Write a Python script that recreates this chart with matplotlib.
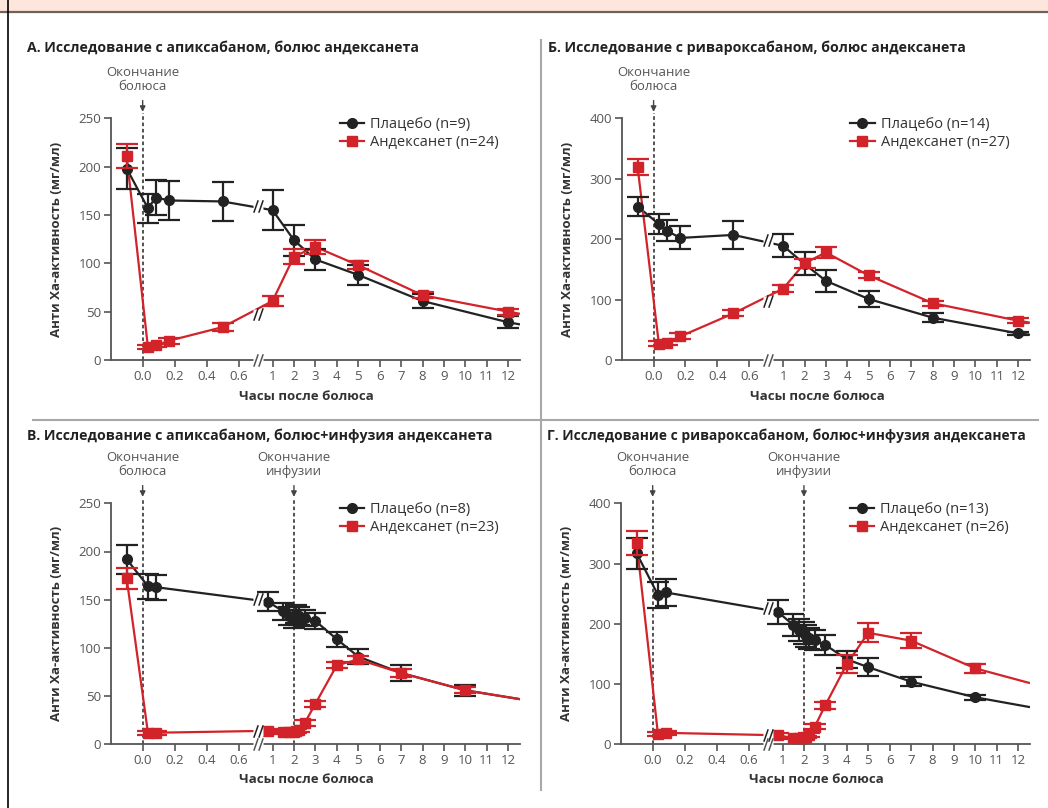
import numpy as np
import matplotlib.pyplot as plt
from matplotlib.path import Path
from matplotlib.lines import Line2D
from matplotlib.patches import Rectangle

plt.rcParams['font.family'] = ['Open Sans', 'DejaVu Sans']

W, H = 1048, 808

# --- data (hours after bolus, anti-Xa activity) ---
a_t = [-0.1, 0.033, 0.083, 0.167, 0.5, 1, 2, 3, 5, 8, 12]
a_plac = [198, 157, 168, 165, 164, 155, 124, 104, 88, 61, 39]
a_plac_err = [21, 15, 18, 20, 20, 21, 16, 11, 10, 7, 6]
a_andx = [211, 13, 15, 20, 34, 61, 107, 117, 98, 67, 50]
a_andx_err = [12, 2, 2, 3, 4, 5, 8, 7, 4, 3, 3]
a_tail = [37, 48]

b_t = [-0.1, 0.033, 0.083, 0.167, 0.5, 1, 2, 3, 5, 8, 12]
b_plac = [254, 225, 214, 202, 207, 189, 159, 131, 101, 70, 44]
b_plac_err = [16, 17, 17, 19, 23, 19, 19, 18, 13, 7, 3]
b_andx = [319, 27, 28, 39, 77, 118, 160, 178, 140, 94, 65]
b_andx_err = [13, 4, 4, 5, 5, 6, 7, 9, 5, 4, 4]
b_tail = [42, 62]

c_t = [-0.1, 0.033, 0.083, 0.92, 1.5, 1.75, 2, 2.1, 2.25, 2.5, 3, 4, 5, 7, 10]
c_plac = [192, 164, 163, 148, 138, 133, 130, 135, 133, 131, 128, 109, 91, 74, 56]
c_plac_err = [15, 13, 13, 10, 9, 9, 9, 9, 9, 8, 8, 8, 8, 8, 6]
c_andx = [172, 12, 12, 14, 13, 13, 13, 14, 15, 22, 42, 82, 88, 74, 56]
c_andx_err = [11, 2, 2, 2, 2, 2, 2, 2, 2, 3, 3, 3, 4, 4, 3]
c_tail = [47, 47]

d_t = [-0.1, 0.033, 0.083, 0.92, 1.5, 1.75, 2, 2.1, 2.25, 2.5, 3, 4, 5, 7, 10]
d_plac = [317, 248, 252, 220, 198, 190, 185, 180, 176, 173, 165, 141, 128, 104, 78]
d_plac_err = [26, 22, 23, 20, 18, 18, 18, 18, 17, 17, 17, 14, 15, 8, 4]
d_andx = [334, 17, 19, 15, 10, 10, 10, 12, 15, 29, 65, 133, 185, 172, 126]
d_andx_err = [20, 3, 3, 3, 2, 2, 2, 2, 3, 4, 6, 15, 16, 12, 8]
d_tail = [62, 102]

titles = ['А. Исследование с апиксабаном, болюс андексанета',
          'Б. Исследование с ривароксабаном, болюс андексанета',
          'В. Исследование с апиксабаном, болюс+инфузия андексанета',
          'Г. Исследование с ривароксабаном, болюс+инфузия андексанета']
legends = [('Плацебо (n=9)', 'Андексанет (n=24)'),
           ('Плацебо (n=14)', 'Андексанет (n=27)'),
           ('Плацебо (n=8)', 'Андексанет (n=23)'),
           ('Плацебо (n=13)', 'Андексанет (n=26)')]

xticks = [0, 0.2, 0.4, 0.6, 1, 2, 3, 4, 5, 6, 7, 8, 9, 10, 11, 12]
xticklabels = ['0.0', '0.2', '0.4', '0.6'] + [str(i) for i in range(1, 13)]

RED = '#d2232a'
BLK = '#222222'
GRAY = '#555555'

# broken time axis: first hour stretched
_tp = [-1, 0.7, 1, 20]
_up = [-160, 112, 130, 130 + 19 * 21.45]
def fwd(t):
    return np.interp(t, _tp, _up)
def inv(u):
    return np.interp(u, _up, _tp)

brk = Path([(-0.75, -1), (-0.05, 1), (0.05, -1), (0.75, 1)],
           [Path.MOVETO, Path.LINETO, Path.MOVETO, Path.LINETO])
TBRK = 0.75

fig = plt.figure(figsize=(W / 100, H / 100), dpi=100)

# page decoration
fig.patches.append(Rectangle((0, 1 - 11 / H), 1, 11 / H, transform=fig.transFigure,
                             facecolor='#fde7dc', edgecolor='none'))
fig.lines.append(Line2D([0, 1], [1 - 11.5 / H] * 2, transform=fig.transFigure,
                        color='#6d625c', lw=1.6))
fig.lines.append(Line2D([7.5 / W] * 2, [0, 1], transform=fig.transFigure,
                        color='black', lw=1.2))
fig.lines.append(Line2D([540.5 / W] * 2, [1 - 40 / H, 1 - 790 / H], transform=fig.transFigure,
                        color='#a8a8a8', lw=1.5))
fig.lines.append(Line2D([33 / W, 1038 / W], [1 - 420.5 / H] * 2, transform=fig.transFigure,
                        color='#a8a8a8', lw=1.5))


def panel(px, t, plac, plac_err, andx, andx_err, tail, ymax, ystep, title, leg,
          tx, ty, tsize, infusion):
    x0, x1, ytop, ybot = px
    ax = fig.add_axes([x0 / W, 1 - ybot / H, (x1 - x0) / W, (ybot - ytop) / H])
    ax.set_xscale('function', functions=(fwd, inv))
    ax.set_xlim(-0.2, 12.55)
    ax.set_ylim(0, ymax)
    for s in ['top', 'right']:
        ax.spines[s].set_visible(False)
    for s in ['left', 'bottom']:
        ax.spines[s].set_color(GRAY)
        ax.spines[s].set_linewidth(1.3)
    ax.set_xticks(xticks)
    ax.set_xticklabels(xticklabels)
    ax.set_yticks(np.arange(0, ymax + 1, ystep))
    ax.tick_params(axis='both', colors=GRAY, labelcolor=GRAY, labelsize=9.5,
                   length=5, width=1.2, pad=2)
    ax.minorticks_off()

    tt = list(t) + [12.5]
    ax.plot(tt, list(plac) + [tail[0]], color=BLK, lw=1.6, zorder=3)
    ax.plot(tt, list(andx) + [tail[1]], color=RED, lw=1.6, zorder=4)
    ax.errorbar(t, plac, yerr=plac_err, fmt='o', color=BLK, ms=7, capsize=8,
                elinewidth=1.6, capthick=1.6, zorder=5)
    ax.errorbar(t, andx, yerr=andx_err, fmt='s', color=RED, ms=7, capsize=8,
                elinewidth=1.6, capthick=1.6, zorder=6)

    # break marks on the lines and on the axis
    for y, c in [(plac, BLK), (andx, RED)]:
        yb = np.interp(TBRK, t, y)
        ax.plot([TBRK], [yb], marker='s', ms=7, mfc='white', mec='none', zorder=7)
        ax.plot([TBRK], [yb], marker=brk, ms=9, mec=BLK, mew=1.1, zorder=8)
    ax.plot([TBRK], [0], marker='s', ms=7, mfc='white', mec='none', zorder=7, clip_on=False)
    ax.plot([TBRK], [0], marker=brk, ms=9, mec=GRAY, mew=1.1, zorder=8, clip_on=False)

    # event markers
    trans = ax.get_xaxis_transform()
    events = [(0, 'Окончание\nболюса')]
    if infusion:
        events.append((2, 'Окончание\nинфузии'))
    for xe, lab in events:
        ax.plot([xe, xe], [0, 1.02], transform=trans, ls=(0, (2, 1.5)), color='#444444',
                lw=1.3, clip_on=False, zorder=2)
        ax.annotate('', xy=(xe, 1.015), xytext=(xe, 1.085), xycoords=trans,
                    arrowprops=dict(arrowstyle='-|>', color='#444444', lw=1,
                                    mutation_scale=8))
        ax.text(xe, 1.16, lab, transform=trans, ha='center', va='center',
                fontsize=9.5, color=GRAY, linespacing=1.05)

    ax.legend([Line2D([], [], color=BLK, marker='o', ms=7, lw=1.6),
               Line2D([], [], color=RED, marker='s', ms=7, lw=1.6)],
              leg, loc='upper left', bbox_to_anchor=(0.545, 1.03), frameon=False,
              handlelength=1.7, handletextpad=0.4, labelspacing=0.2, fontsize=10.5,
              borderaxespad=0, labelcolor='#333333')

    ax.text(0.479, ty, 'Часы после болюса', transform=ax.transAxes, ha='center',
            va='center', fontsize=9.5, fontweight='bold', color='#333333')
    ax.set_ylabel('Анти Ха-активность (мг/мл)', fontsize=9.5, fontweight='bold',
                  color='#333333', labelpad=11)
    fig.text(tx / W, 1 - (ytop - 71 if not infusion else ytop - 68) / H, title,
             fontsize=tsize, fontweight='bold', color='#222222', va='center')
    return ax


panel((110.7, 520, 118.3, 360), a_t, a_plac, a_plac_err, a_andx, a_andx_err, a_tail,
      250, 50, titles[0], legends[0], 27, -0.153, 10.2, False)
panel((621.7, 1030, 118.3, 360), b_t, b_plac, b_plac_err, b_andx, b_andx_err, b_tail,
      400, 100, titles[1], legends[1], 548, -0.153, 10.2, False)
panel((110.7, 520, 503.3, 744.3), c_t, c_plac, c_plac_err, c_andx, c_andx_err, c_tail,
      250, 50, titles[2], legends[2], 27, -0.148, 10.2, True)
panel((620.7, 1030, 503.3, 744.3), d_t, d_plac, d_plac_err, d_andx, d_andx_err, d_tail,
      400, 100, titles[3], legends[3], 547, -0.148, 9.9, True)

fig.savefig('out.png', dpi=100)
